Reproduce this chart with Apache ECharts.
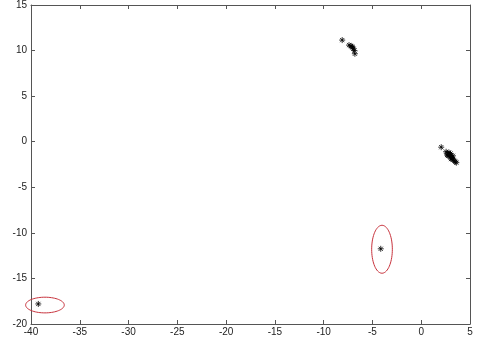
<!DOCTYPE html>
<html>
<head>
<meta charset="utf-8">
<script src="https://cdn.jsdelivr.net/npm/echarts@6/dist/echarts.min.js"></script>
<style>html,body{margin:0;padding:0;background:#fff;}#c{width:483px;height:341px;}</style>
</head>
<body>
<div id="c"></div>
<script>
// Upper cluster
const clusterAX = [-8.1, -7.4, -7.2, -7.05, -6.95, -6.85, -6.8, -7.1];
const clusterAY = [11.15, 10.6, 10.5, 10.35, 10.2, 10.0, 9.65, 10.45];
// Right cluster
const clusterBX = [2.05, 2.55, 2.7, 2.8, 2.9, 2.75, 3.0, 3.1, 2.95, 3.2, 3.05, 3.3, 3.15, 3.4, 2.85, 3.25, 3.6, 3.5, 2.65, 3.0];
const clusterBY = [-0.6, -1.1, -1.25, -1.4, -1.5, -1.55, -1.6, -1.7, -1.35, -1.85, -1.9, -2.0, -1.75, -2.1, -1.2, -1.55, -2.3, -2.2, -1.45, -1.3];
// Outliers
const outlierX = [-39.25, -4.15];
const outlierY = [-17.8, -11.75];
// Ellipses: center x, center y, radius x, radius y
const ellipseCX = [-38.57, -4.02];
const ellipseCY = [-17.92, -11.80];
const ellipseRX = [1.98, 1.06];
const ellipseRY = [0.86, 2.63];

const xTicks = [-40, -35, -30, -25, -20, -15, -10, -5, 0, 5];
const yTicks = [-20, -15, -10, -5, 0, 5, 10, 15];

const points = [];
clusterAX.forEach((x, i) => points.push([x, clusterAY[i]]));
clusterBX.forEach((x, i) => points.push([x, clusterBY[i]]));
outlierX.forEach((x, i) => points.push([x, outlierY[i]]));
const ellipses = ellipseCX.map((cx, i) => [cx, ellipseCY[i], ellipseRX[i], ellipseRY[i]]);

const axisColor = '#555';
const labelStyle = { color: '#222', fontSize: 10, fontFamily: 'Liberation Sans, Arial, sans-serif' };

function xAx(pos, showLabel) {
  return {
    type: 'value', position: pos, min: xTicks[0], max: xTicks[xTicks.length - 1], interval: 5,
    axisLine: { show: true, onZero: false, lineStyle: { color: axisColor, width: 1 } },
    axisTick: { show: true, inside: true, length: 4, lineStyle: { color: axisColor } },
    axisLabel: Object.assign({ show: showLabel, margin: 3 }, labelStyle),
    splitLine: { show: false }
  };
}
function yAx(pos, showLabel) {
  return {
    type: 'value', position: pos, min: yTicks[0], max: yTicks[yTicks.length - 1], interval: 5,
    axisLine: { show: true, onZero: false, lineStyle: { color: axisColor, width: 1 } },
    axisTick: { show: true, inside: true, length: 4, lineStyle: { color: axisColor } },
    axisLabel: Object.assign({ show: showLabel, margin: 4 }, labelStyle),
    splitLine: { show: false }
  };
}

const chart = echarts.init(document.getElementById('c'), null, { renderer: 'canvas' });
chart.setOption({
  animation: false,
  backgroundColor: '#fff',
  grid: { left: 31, right: 13, top: 4, bottom: 17, containLabel: false },
  xAxis: [xAx('bottom', true), xAx('top', false)],
  yAxis: [yAx('left', true), yAx('right', false)],
  series: [
    {
      type: 'custom',
      xAxisIndex: 0, yAxisIndex: 0,
      data: ellipses,
      renderItem: function (params, api) {
        const cx = api.value(0), cy = api.value(1), rx = api.value(2), ry = api.value(3);
        const pts = [];
        for (let k = 0; k < 72; k++) {
          const t = k / 72 * Math.PI * 2;
          pts.push(api.coord([cx + rx * Math.cos(t), cy + ry * Math.sin(t)]));
        }
        return {
          type: 'polygon',
          shape: { points: pts },
          style: { fill: 'none', stroke: '#c8323c', lineWidth: 1 }
        };
      },
      z: 1
    },
    {
      type: 'scatter',
      xAxisIndex: 0, yAxisIndex: 0,
      data: points,
      symbol: 'path://M0,-1L0,1M-1,0L1,0M-0.7,-0.7L0.7,0.7M-0.7,0.7L0.7,-0.7',
      symbolSize: 6,
      itemStyle: { color: 'none', borderColor: '#000', borderWidth: 1 },
      z: 2
    }
  ]
});
</script>
</body>
</html>
